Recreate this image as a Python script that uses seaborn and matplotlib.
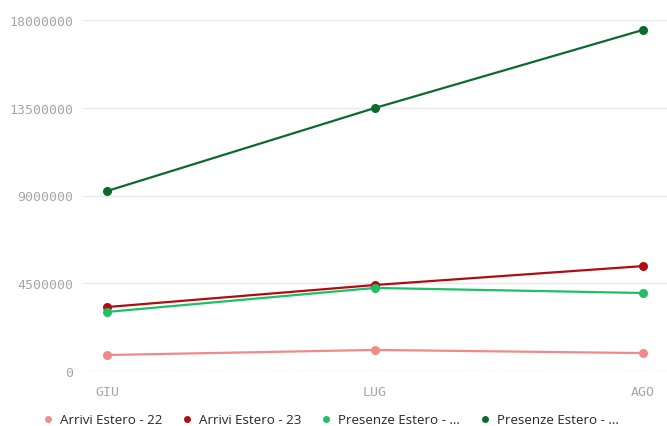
import numpy as np
import pandas as pd
import seaborn as sns
import matplotlib.pyplot as plt
from matplotlib.lines import Line2D
from matplotlib.ticker import FuncFormatter

sns.set_style("white")

months = ["GIU", "LUG", "AGO"]
series = ["Arrivi Estero - 22", "Arrivi Estero - 23",
          "Presenze Estero - 22", "Presenze Estero - 23"]
legend_labels = ["Arrivi Estero - 22", "Arrivi Estero - 23",
                 "Presenze Estero - ...", "Presenze Estero - ..."]
arrivi_22 = [820000, 1080000, 920000]
arrivi_23 = [3280000, 4410000, 5380000]
presenze_22 = [3030000, 4260000, 4000000]
presenze_23 = [9230000, 13490000, 17490000]
colors = ["#f08a88", "#b00d12", "#1fbf66", "#0b6a2e"]

df = pd.DataFrame({
    "mese": months * 4,
    "serie": np.repeat(series, 3),
    "valore": arrivi_22 + arrivi_23 + presenze_22 + presenze_23,
})

fig = plt.figure(figsize=(6.67, 4.27), dpi=100)
ax = fig.add_axes([83 / 667, 1 - 372 / 427, 1 - 83 / 667, (372 - 21) / 427])

sns.lineplot(data=df, x="mese", y="valore", hue="serie", palette=colors,
             marker="o", markersize=6.5, markeredgewidth=0, linewidth=1.6,
             legend=False, ax=ax, sort=False)

ax.set_xlim(-0.09, 2.09)
ax.set_ylim(0, 18000000)
ax.set_yticks([0, 4500000, 9000000, 13500000, 18000000])
ax.yaxis.set_major_formatter(FuncFormatter(lambda v, p: f"{int(v)}"))
ax.grid(axis="y", color="#e9e9e9", linewidth=1)
ax.set_axisbelow(True)
for s in ax.spines.values():
    s.set_visible(False)
ax.set_xlabel("")
ax.set_ylabel("")
ax.tick_params(axis="both", length=0, labelcolor="#a6a6a6", labelsize=9.5)
ax.tick_params(axis="y", pad=7)
ax.tick_params(axis="x", pad=10)
for lab in ax.get_xticklabels() + ax.get_yticklabels():
    lab.set_family("DejaVu Sans Mono")

handles = [Line2D([], [], linestyle="none", marker="o", markersize=5,
                  markeredgewidth=0, color=c) for c in colors]
fig.legend(handles, legend_labels, loc="center left", ncol=4,
           bbox_to_anchor=(36 / 667, 1 - 421 / 427), frameon=False,
           borderaxespad=0, prop={"family": "Open Sans", "size": 9.6},
           handletextpad=0.4, columnspacing=1.35, handlelength=1.0)

fig.savefig("out.png", dpi=100)
